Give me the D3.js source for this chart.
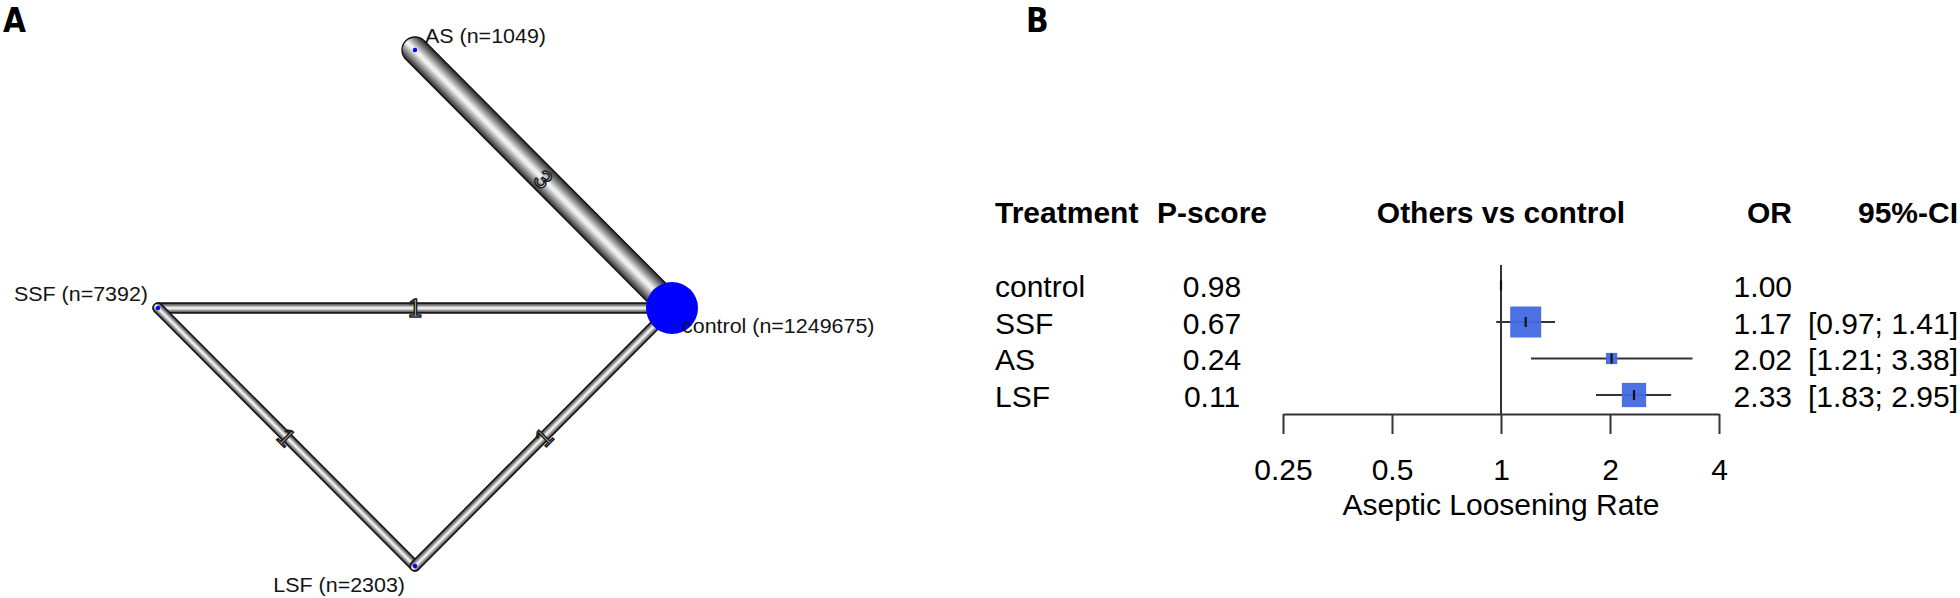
<!DOCTYPE html>
<html>
<head>
<meta charset="utf-8">
<script src="https://cdn.jsdelivr.net/npm/d3@7"></script>
<style>
body { margin: 0; background: #fff; }
svg { display: block; font-family: "Liberation Sans", Arial, Helvetica, sans-serif; }
</style>
</head>
<body>
<svg id="chart" width="1960" height="598"></svg>
<script>
// network graph data (panel A)
const netNodes = ["AS", "control", "LSF", "SSF"];
const netSizes = [1049, 1249675, 2303, 7392];
const edgeFrom = ["AS", "SSF", "SSF", "LSF"];
const edgeTo = ["control", "control", "LSF", "control"];
const edgeStudies = [3, 1, 1, 1];

// forest plot data (panel B)
const treatments = ["control", "SSF", "AS", "LSF"];
const pScores = ["0.98", "0.67", "0.24", "0.11"];
const orValues = [1.00, 1.17, 2.02, 2.33];
const ciLow = [null, 0.97, 1.21, 1.83];
const ciHigh = [null, 1.41, 3.38, 2.95];
const axisTicks = [0.25, 0.5, 1, 2, 4];

const svg = d3.select("#chart");

// gradient to shade the tubes
let defs = svg.append("defs");
let grad = defs.append("linearGradient")
    .attr("id", "tube")
    .attr("x1", 0).attr("y1", 0).attr("x2", 0).attr("y2", 1);
[[0, "#262626"], [0.2, "#7a7a7a"], [0.47, "#f0f0f0"], [0.55, "#f0f0f0"], [0.82, "#7a7a7a"], [1, "#262626"]]
    .forEach(s => grad.append("stop").attr("offset", s[0]).attr("stop-color", s[1]));

// panel letters
["A", "B"].forEach((l, i) => {
    svg.append("text").attr("x", i == 0 ? 3 : 1026).attr("y", 32).text(l)
        .style("font-family", "'Liberation Sans Narrow', 'DejaVu Sans Condensed', sans-serif")
        .style("font-weight", "bold").style("font-size", "33px");
});

// ---------- panel A: network ----------
// circular layout, first node on top, going clockwise
let layout = {};
netNodes.forEach((n, i) => {
    let a = Math.PI / 2 - i * 2 * Math.PI / netNodes.length;
    layout[n] = [Math.round(Math.cos(a) * 1000) / 1000, Math.round(Math.sin(a) * 1000) / 1000];
});
let xNet = d3.scaleLinear().domain([-1, 1]).range([158, 672]);
let yNet = d3.scaleLinear().domain([-1, 1]).range([566, 50]);
let widthScale = d3.scaleLinear().domain([1, 3]).range([10, 26]);
let nodeR = d3.scaleSqrt().domain([0, d3.max(netSizes)]).range([0, 26]);

let net = svg.append("g");
let edges = edgeFrom.map((f, i) => {
    let x1 = xNet(layout[f][0]), y1 = yNet(layout[f][1]);
    let x2 = xNet(layout[edgeTo[i]][0]), y2 = yNet(layout[edgeTo[i]][1]);
    return {x1, y1, x2, y2, n: edgeStudies[i],
        len: Math.hypot(x2 - x1, y2 - y1),
        ang: Math.atan2(y2 - y1, x2 - x1) * 180 / Math.PI};
});

// draw thin tubes first, thick on top
let order = edges.slice().sort((a, b) => a.n - b.n);
order.forEach(e => {
    let w = widthScale(e.n);
    net.append("rect")
        .attr("transform", "translate(" + e.x1 + "," + e.y1 + ") rotate(" + e.ang + ")")
        .attr("x", -w / 2).attr("y", -w / 2)
        .attr("width", e.len + w).attr("height", w)
        .attr("rx", w / 2).attr("ry", w / 2)
        .attr("fill", "url(#tube)")
        .attr("stroke", "#111").attr("stroke-width", 1.3);
});

// number of studies on each edge
edges.forEach(e => {
    net.append("text")
        .attr("transform", "translate(" + ((e.x1 + e.x2) / 2) + "," + ((e.y1 + e.y2) / 2) + ") rotate(" + e.ang + ")")
        .attr("text-anchor", "middle")
        .attr("dy", "0.36em")
        .style("font-size", "25px")
        .attr("fill", "#f4f4f4")
        .attr("stroke", "#1c1c1c").attr("stroke-width", 1.5)
        .text(e.n);
});

// nodes
netNodes.forEach((n, i) => {
    net.append("circle")
        .attr("cx", xNet(layout[n][0])).attr("cy", yNet(layout[n][1]))
        .attr("r", Math.max(2.2, nodeR(netSizes[i])))
        .attr("fill", "#0000ff");
});

// node labels
let labAnchor = ["start", "start", "end", "end"];
let labDy = [-7, 25, 26, -7];
netNodes.forEach((n, i) => {
    let dx = labAnchor[i] == "start" ? 10 : -10;
    net.append("text")
        .attr("transform", "translate(" + (xNet(layout[n][0]) + dx) + "," + (yNet(layout[n][1]) + labDy[i]) + ") scale(1.1,1)")
        .attr("text-anchor", labAnchor[i])
        .style("font-size", "19.5px")
        .attr("fill", "#141414")
        .text(n + " (n=" + netSizes[i] + ")");
});

// ---------- panel B: forest plot ----------
let xF = d3.scaleLog().domain([0.25, 4]).range([1283, 1719]);
let yF = d3.scalePoint().domain(treatments).range([285.5, 395]);

// square size from inverse variance weight
let weights = orValues.map((v, i) => {
    if (ciLow[i] == null) return 0;
    let se = (Math.log(ciHigh[i]) - Math.log(ciLow[i])) / (2 * 1.959964);
    return 1 / (se * se);
});
let boxSize = d3.scaleSqrt().domain([0, d3.max(weights)]).range([0, 31]);

let forest = svg.append("g");
let fs = "30px";

// headers
let headY = 223;
forest.append("text").attr("x", 995).attr("y", headY).text("Treatment");
forest.append("text").attr("x", 1157).attr("y", headY).text("P-score");
forest.append("text").attr("x", xF(1)).attr("y", headY).attr("text-anchor", "middle").text("Others vs control");
forest.append("text").attr("x", 1792).attr("y", headY).attr("text-anchor", "end").text("OR");
forest.append("text").attr("x", 1958).attr("y", headY).attr("text-anchor", "end").text("95%-CI");
forest.selectAll("text").style("font-weight", "bold").style("font-size", fs);

// reference line at OR = 1
forest.append("line")
    .attr("x1", xF(1)).attr("x2", xF(1))
    .attr("y1", 265).attr("y2", 414)
    .attr("stroke", "#333").attr("stroke-width", 2);

// rows
treatments.forEach((t, i) => {
    let y = yF(t);
    if (ciLow[i] != null) {
        forest.append("line")
            .attr("x1", xF(ciLow[i])).attr("x2", xF(ciHigh[i]))
            .attr("y1", y).attr("y2", y)
            .attr("stroke", "#333").attr("stroke-width", 2);
        let s = boxSize(weights[i]);
        forest.append("rect")
            .attr("x", xF(orValues[i]) - s / 2).attr("y", y - s / 2)
            .attr("width", s).attr("height", s)
            .attr("fill", "#4169e1").attr("fill-opacity", 0.95);
    }
    forest.append("line")
        .attr("x1", xF(orValues[i])).attr("x2", xF(orValues[i]))
        .attr("y1", y - 5).attr("y2", y + 5)
        .attr("stroke", "#111").attr("stroke-width", 2.2);

    let by = y + 11.5;
    forest.append("text").attr("x", 995).attr("y", by).style("font-size", fs).text(t);
    forest.append("text").attr("x", 1212).attr("y", by).attr("text-anchor", "middle").style("font-size", fs).text(pScores[i]);
    forest.append("text").attr("x", 1792).attr("y", by).attr("text-anchor", "end").style("font-size", fs).text(orValues[i].toFixed(2));
    if (ciLow[i] != null) {
        forest.append("text").attr("x", 1958).attr("y", by).attr("text-anchor", "end").style("font-size", fs)
            .text("[" + ciLow[i].toFixed(2) + "; " + ciHigh[i].toFixed(2) + "]");
    }
});

// x axis
let xAxis = forest.append("g")
    .attr("transform", "translate(0,414)")
    .call(d3.axisBottom(xF).tickValues(axisTicks).tickFormat(d => String(d))
        .tickSize(20).tickSizeOuter(0).tickPadding(25));
xAxis.attr("font-size", null).attr("font-family", null);
xAxis.select(".domain").attr("stroke", "#333").attr("stroke-width", 2);
xAxis.selectAll(".tick line").attr("stroke", "#333").attr("stroke-width", 2);
xAxis.selectAll(".tick text").style("font-size", fs).attr("fill", "#000");

forest.append("text")
    .attr("x", xF(1)).attr("y", 515)
    .attr("text-anchor", "middle")
    .style("font-size", fs)
    .text("Aseptic Loosening Rate");
</script>
</body>
</html>
